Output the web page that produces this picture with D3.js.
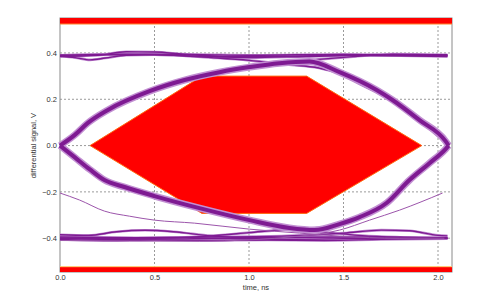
<!DOCTYPE html>
<html>
<head>
<meta charset="utf-8">
<script src="https://cdn.jsdelivr.net/npm/d3@7"></script>
<style>
  body { margin: 0; background: #fff; }
  text { font-family: "Liberation Sans", Arial, sans-serif; }
</style>
</head>
<body>
<div id="eye"></div>
<script>
// axis ticks
var timeTicks = [0, 0.5, 1.0, 1.5, 2.0];
var voltTicks = [-0.4, -0.2, 0, 0.2, 0.4];

// eye mask: inner hexagon and the two outer bands (time ns, volts)
var maskInner = [[0.159, 0], [0.751, 0.3], [1.305, 0.3], [1.914, 0], [1.305, -0.293], [0.751, -0.293]];
var maskTop = [0.525, 0.551];
var maskBottom = [-0.546, -0.523];

// traces, [time ns, volts]
var upperArc = [[0, 0], [0.077, 0.045], [0.146, 0.097], [0.251, 0.153], [0.474, 0.235], [0.659, 0.283],
  [0.844, 0.317], [1.003, 0.339], [1.161, 0.356], [1.32, 0.363], [1.479, 0.317], [1.675, 0.24],
  [1.759, 0.197], [1.902, 0.11], [2.04, 0.019], [2.056, 0]];
var lowerArc = [[0, 0], [0.077, -0.05], [0.156, -0.102], [0.235, -0.149], [0.341, -0.179], [0.5, -0.218],
  [0.738, -0.27], [1.003, -0.322], [1.214, -0.356], [1.347, -0.365], [1.479, -0.339], [1.585, -0.309],
  [1.728, -0.248], [1.849, -0.149], [1.955, -0.076], [2.04, -0.015], [2.056, 0]];
var riseToOne = [[0, 0], [0.08, 0.05], [0.15, 0.1], [0.25, 0.152], [0.47, 0.236], [0.66, 0.284], [0.85, 0.318],
  [1.0, 0.338], [1.15, 0.356], [1.32, 0.369], [1.55, 0.384], [1.76, 0.395], [2.05, 0.392]];
var fallFromOne = [[0, 0.39], [0.3, 0.395], [0.6, 0.39], [0.8, 0.38], [1.0, 0.368], [1.2, 0.35], [1.37, 0.335],
  [1.48, 0.31], [1.6, 0.26], [1.7, 0.22], [1.8, 0.17], [1.9, 0.11], [2.0, 0.04], [2.05, 0.005]];
var fallToZero = [[0, 0], [0.08, -0.052], [0.16, -0.104], [0.24, -0.15], [0.34, -0.18], [0.5, -0.222], [0.74, -0.274],
  [1.0, -0.327], [1.2, -0.354], [1.4, -0.374], [1.6, -0.389], [1.8, -0.396], [2.05, -0.4]];
var riseFromZero = [[0, -0.4], [0.4, -0.402], [0.8, -0.39], [1.0, -0.376], [1.2, -0.362], [1.35, -0.356],
  [1.48, -0.342], [1.59, -0.31], [1.73, -0.25], [1.85, -0.152], [1.95, -0.078], [2.04, -0.016], [2.056, 0]];
var topA = [[0, 0.39], [0.25, 0.392], [0.5, 0.395], [0.75, 0.393], [1.0, 0.39], [1.25, 0.392], [1.5, 0.394], [1.75, 0.392], [2.05, 0.39]];
var topB = [[0, 0.387], [0.08, 0.38], [0.16, 0.37], [0.24, 0.378], [0.35, 0.39], [0.5, 0.392], [0.75, 0.385],
  [1.0, 0.38], [1.3, 0.385], [1.6, 0.39], [2.05, 0.388]];
var topC = [[0, 0.385], [0.2, 0.39], [0.35, 0.405], [0.5, 0.404], [0.65, 0.395], [0.9, 0.385], [1.2, 0.386], [1.5, 0.39], [2.05, 0.385]];
var botA = [[0, -0.4], [0.3, -0.405], [0.6, -0.403], [0.9, -0.4], [1.2, -0.405], [1.5, -0.402], [1.8, -0.398], [2.05, -0.4]];
var botB = [[0, -0.405], [0.25, -0.41], [0.5, -0.408], [0.8, -0.41], [1.1, -0.408], [1.4, -0.41], [1.7, -0.405], [2.05, -0.402]];
var botC = [[0, -0.385], [0.15, -0.388], [0.3, -0.372], [0.45, -0.366], [0.6, -0.372], [0.8, -0.39], [1.0, -0.398], [1.3, -0.396], [1.6, -0.395], [2.05, -0.398]];
var botD = [[0, -0.395], [0.4, -0.398], [0.8, -0.395], [1.2, -0.39], [1.5, -0.378], [1.7, -0.365], [1.85, -0.368], [2.0, -0.388], [2.05, -0.39]];
var thinFall = [[0, -0.205], [0.103, -0.235], [0.235, -0.283], [0.368, -0.305], [0.5, -0.322], [0.712, -0.335],
  [1.003, -0.361], [1.267, -0.378], [1.479, -0.391], [1.796, -0.4], [2.034, -0.4]];
var thinRise = [[0, -0.41], [0.738, -0.413], [1.267, -0.391], [1.479, -0.365], [1.638, -0.322], [1.796, -0.279], [2.024, -0.205]];

var thickTraces = [upperArc, lowerArc];
var levelTraces = [topA, topB, topC, botA, botB, botC, botD, riseToOne, fallFromOne, fallToZero, riseFromZero];
var thinTraces = [thinFall, thinRise];

var W = 500, H = 300;
var plotL = 60, plotR = 452, plotT = 18, plotB = 272;

var x = d3.scaleLinear().domain([0, 2.074]).range([plotL, plotR]);
var y = d3.scaleLinear().domain([-0.546, 0.551]).range([plotB, plotT]);

var svg = d3.select("#eye").append("svg")
  .attr("width", W)
  .attr("height", H);

// grid
svg.append("g").selectAll("line")
  .data(timeTicks.filter(function(d) { return d > 0; }))
  .enter().append("line")
  .attr("x1", function(d) { return x(d); })
  .attr("x2", function(d) { return x(d); })
  .attr("y1", plotT).attr("y2", plotB)
  .attr("stroke", "#9a9a9a").attr("stroke-dasharray", "2,2");
svg.append("g").selectAll("line")
  .data(voltTicks)
  .enter().append("line")
  .attr("y1", function(d) { return y(d); })
  .attr("y2", function(d) { return y(d); })
  .attr("x1", plotL).attr("x2", plotR)
  .attr("stroke", "#9a9a9a").attr("stroke-dasharray", "2,2");

// frame
svg.append("rect")
  .attr("x", plotL).attr("y", plotT)
  .attr("width", plotR - plotL).attr("height", plotB - plotT)
  .attr("fill", "none").attr("stroke", "#8a8a8a");

// mask
svg.append("polygon")
  .attr("points", maskInner.map(function(p) { return x(p[0]) + "," + y(p[1]); }).join(" "))
  .attr("fill", "#ff0000")
  .attr("stroke", "#ff6a10")
  .attr("stroke-width", 1);
svg.append("rect")
  .attr("x", plotL).attr("width", plotR - plotL)
  .attr("y", y(maskTop[1])).attr("height", y(maskTop[0]) - y(maskTop[1]))
  .attr("fill", "#ff0000");
svg.append("line")
  .attr("x1", plotL).attr("x2", plotR)
  .attr("y1", y(maskTop[0])).attr("y2", y(maskTop[0]))
  .attr("stroke", "#ff8a30");
svg.append("rect")
  .attr("x", plotL).attr("width", plotR - plotL)
  .attr("y", y(maskBottom[1])).attr("height", y(maskBottom[0]) - y(maskBottom[1]))
  .attr("fill", "#ff0000");
svg.append("line")
  .attr("x1", plotL).attr("x2", plotR)
  .attr("y1", y(maskBottom[1])).attr("y2", y(maskBottom[1]))
  .attr("stroke", "#ffd070");

// traces
var line = d3.line()
  .x(function(d) { return x(d[0]); })
  .y(function(d) { return y(d[1]); })
  .curve(d3.curveMonotoneX);

function drawTraces(data, haloWidth, coreWidth) {
  var g = svg.append("g").attr("fill", "none");
  g.selectAll("path.halo")
    .data(data).enter().append("path")
    .attr("class", "halo")
    .attr("d", line)
    .attr("stroke", "#c28fd2")
    .attr("stroke-width", haloWidth);
  g.selectAll("path.core")
    .data(data).enter().append("path")
    .attr("class", "core")
    .attr("d", line)
    .attr("stroke", "#7e1a92")
    .attr("stroke-width", coreWidth);
}
drawTraces(levelTraces, 2.6, 1.4);
drawTraces(thickTraces, 7, 4);
svg.append("g").attr("fill", "none")
  .selectAll("path")
  .data(thinTraces).enter().append("path")
  .attr("d", line)
  .attr("stroke", "#9c55ab")
  .attr("stroke-width", 1);

// axes labels
var xAxis = d3.axisBottom(x).tickValues(timeTicks).tickSize(0).tickPadding(3)
  .tickFormat(d3.format(".1f"));
var gx = svg.append("g")
  .attr("transform", "translate(0," + plotB + ")")
  .call(xAxis);
gx.select(".domain").remove();
gx.selectAll("text").style("font-size", "7.5px").attr("fill", "#333");

var yAxis = d3.axisLeft(y).tickValues(voltTicks).tickSize(0).tickPadding(3)
  .tickFormat(d3.format(".1f"));
var gy = svg.append("g")
  .attr("transform", "translate(" + plotL + ",0)")
  .call(yAxis);
gy.select(".domain").remove();
gy.selectAll("text").style("font-size", "7.5px").attr("fill", "#333");

svg.append("text")
  .attr("x", (plotL + plotR) / 2)
  .attr("y", 290)
  .attr("text-anchor", "middle")
  .style("font-size", "7.5px")
  .attr("fill", "#333")
  .text("time, ns");

svg.append("text")
  .attr("transform", "translate(36," + y(0) + ") rotate(-90)")
  .attr("text-anchor", "middle")
  .style("font-size", "7.5px")
  .attr("fill", "#333")
  .text("differential signal, V");
</script>
</body>
</html>
